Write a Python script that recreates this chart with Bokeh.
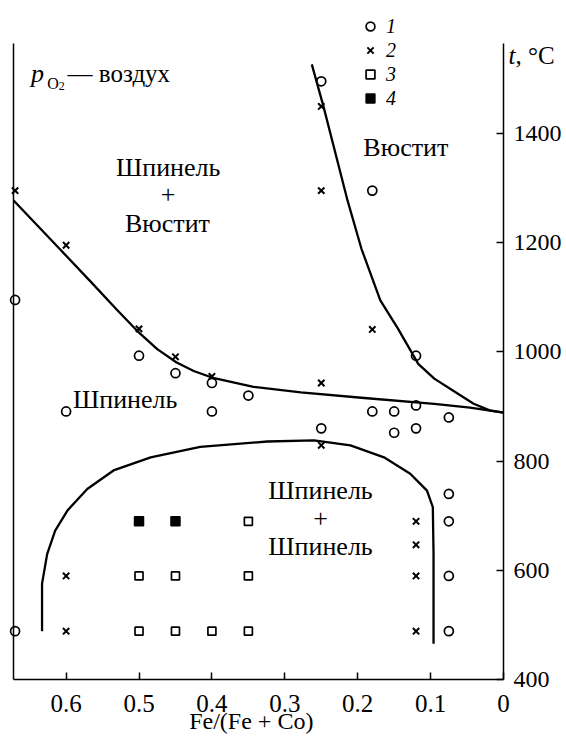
from bokeh.plotting import figure
from bokeh.models import Range1d, FixedTicker, Label, Legend, LegendItem, LinearAxis
from bokeh.embed import file_html
from bokeh.resources import INLINE

# ---------------- data ----------------
x_ticks = [0.6, 0.5, 0.4, 0.3, 0.2, 0.1, 0.0]
y_ticks = [400, 600, 800, 1000, 1200, 1400]
x_left, x_right = 0.672, 0.0        # extent of the composition axis
t_min, t_max = 400, 1564            # extent of the temperature axis

# series 1 (open circles)
s1_x = [0.25, 0.18, 0.67, 0.50, 0.45, 0.40, 0.35, 0.40, 0.60, 0.25, 0.12,
        0.18, 0.15, 0.12, 0.075, 0.15, 0.12, 0.075, 0.075, 0.075, 0.075, 0.67]
s1_t = [1495, 1295, 1095, 993, 961, 943, 920, 891, 891, 860, 993,
        891, 891, 902, 880, 852, 860, 740, 690, 590, 489, 489]
# series 2 (crosses)
s2_x = [0.25, 0.25, 0.67, 0.60, 0.50, 0.45, 0.40, 0.25, 0.18, 0.25,
        0.12, 0.12, 0.60, 0.12, 0.60, 0.12]
s2_t = [1449, 1295, 1295, 1195, 1042, 991, 955, 943, 1041, 829,
        690, 647, 590, 590, 489, 489]
# series 3 (open squares)
s3_x = [0.35, 0.50, 0.45, 0.35, 0.50, 0.45, 0.40, 0.35]
s3_t = [690, 590, 590, 590, 489, 489, 489, 489]
# series 4 (filled squares)
s4_x = [0.50, 0.45]
s4_t = [690, 690]

# boundary: spinel / spinel + wustite
b1_x = [0.672, 0.61, 0.566, 0.531, 0.50, 0.475, 0.449, 0.425, 0.40, 0.343,
        0.278, 0.195, 0.095, 0.046, 0.0]
b1_t = [1277, 1190, 1128, 1078, 1035, 1005, 981, 965, 953, 936,
        926, 916, 905, 898, 889]
# boundary: wustite
b2_x = [0.263, 0.247, 0.214, 0.195, 0.169, 0.145, 0.117, 0.095, 0.069, 0.041, 0.019, 0.0]
b2_t = [1526, 1449, 1277, 1189, 1094, 1043, 978, 951, 929, 905, 893, 889]
# miscibility gap (spinel + spinel)
b3_x = [0.633, 0.633, 0.626, 0.615, 0.598, 0.571, 0.535, 0.484, 0.416, 0.324,
        0.260, 0.210, 0.164, 0.128, 0.105, 0.097, 0.096, 0.096]
b3_t = [489, 576, 630, 673, 710, 749, 783, 807, 826, 836,
        838, 829, 807, 777, 746, 716, 630, 466]

FONT = "Liberation Serif"

# the frame covers the whole canvas; axes are pinned inside it
p = figure(width=565, height=735,
           x_range=Range1d(0.690, -0.085), y_range=Range1d(298.1, 1642.8),
           x_axis_type=None, y_axis_type=None,
           output_backend="svg", toolbar_location=None,
           min_border_left=0, min_border_right=0, min_border_top=0, min_border_bottom=0,
           background_fill_color="white", border_fill_color="white")
p.outline_line_color = None
p.grid.visible = False

xaxis = LinearAxis(fixed_location=t_min, bounds=(x_right, x_left),
                   ticker=FixedTicker(ticks=x_ticks))
yaxis = LinearAxis(fixed_location=x_right, bounds=(t_min, t_max),
                   ticker=FixedTicker(ticks=y_ticks))
leftline = LinearAxis(fixed_location=x_left, bounds=(t_min, t_max),
                      ticker=FixedTicker(ticks=[]))
for ax in (xaxis, yaxis, leftline):
    ax.major_tick_in = 7
    ax.major_tick_out = 0
    ax.minor_tick_line_color = None
    ax.axis_line_width = 1.5
    ax.axis_line_color = "black"
    ax.major_tick_line_width = 1.5
    ax.major_tick_line_color = "black"
    ax.major_label_text_font = FONT
    ax.major_label_text_font_size = "25px"
    ax.major_label_text_color = "black"
xaxis.major_label_standoff = 15
yaxis.major_label_standoff = 10
yaxis.major_label_text_font_size = "24px"
leftline.major_label_text_font_size = "0px"
p.add_layout(xaxis, "below")
p.add_layout(yaxis, "right")
p.add_layout(leftline, "left")

for bx, bt in ((b1_x, b1_t), (b2_x, b2_t), (b3_x, b3_t)):
    p.line(bx, bt, line_color="black", line_width=2.3, line_join="round")

r1 = p.scatter(s1_x, s1_t, marker="circle", size=9, fill_color=None,
               line_color="black", line_width=1.7)
r2 = p.scatter(s2_x, s2_t, marker="x", size=9, line_color="black", line_width=2)
r3 = p.scatter(s3_x, s3_t, marker="square", size=8, fill_color=None,
               line_color="black", line_width=1.7)
r4 = p.scatter(s4_x, s4_t, marker="square", size=9, fill_color="black",
               line_color="black", line_width=1.5)

legend = Legend(items=[LegendItem(label="1", renderers=[r1]),
                       LegendItem(label="2", renderers=[r2]),
                       LegendItem(label="3", renderers=[r3]),
                       LegendItem(label="4", renderers=[r4])],
                location=(359, 625), orientation="vertical",
                label_text_font=FONT, label_text_font_style="italic",
                label_text_font_size="20px", label_text_color="black",
                label_text_line_height=1.0,
                glyph_width=22, glyph_height=24, label_height=24,
                label_standoff=5, spacing=0, padding=0, margin=0,
                border_line_color=None, background_fill_alpha=0)
p.add_layout(legend, "center")


def lab(x, y, text, size="26px", style="normal", align="center", baseline="middle"):
    p.add_layout(Label(x=x, y=y, text=text, text_font=FONT, text_font_size=size,
                       text_font_style=style, text_align=align,
                       text_baseline=baseline, text_color="black"))


lab(0.134, 1374, "Вюстит")
lab(0.460, 1337, "Шпинель")
lab(0.460, 1288, "+")
lab(0.461, 1235, "Вюстит")
lab(0.519, 913, "Шпинель")
lab(0.251, 747, "Шпинель")
lab(0.251, 695, "+")
lab(0.251, 643, "Шпинель")

# p_O2 — воздух
lab(0.648, 1509, "p", size="26px", style="italic", align="left", baseline="alphabetic")
lab(0.626, 1491, "O", size="16px", align="left", baseline="alphabetic")
lab(0.610, 1486, "2", size="12px", align="left", baseline="alphabetic")
lab(0.598, 1509, "— воздух", size="25px", align="left", baseline="alphabetic")

# axis titles
lab(-0.0069, 1542, "t", size="25px", style="italic", align="left", baseline="alphabetic")
lab(-0.0165, 1542, ", °C", size="25px", align="left", baseline="alphabetic")
lab(0.346, 324, "Fe/(Fe + Co)", size="24px", baseline="alphabetic")

open("out.html", "w").write(file_html(p, INLINE))
